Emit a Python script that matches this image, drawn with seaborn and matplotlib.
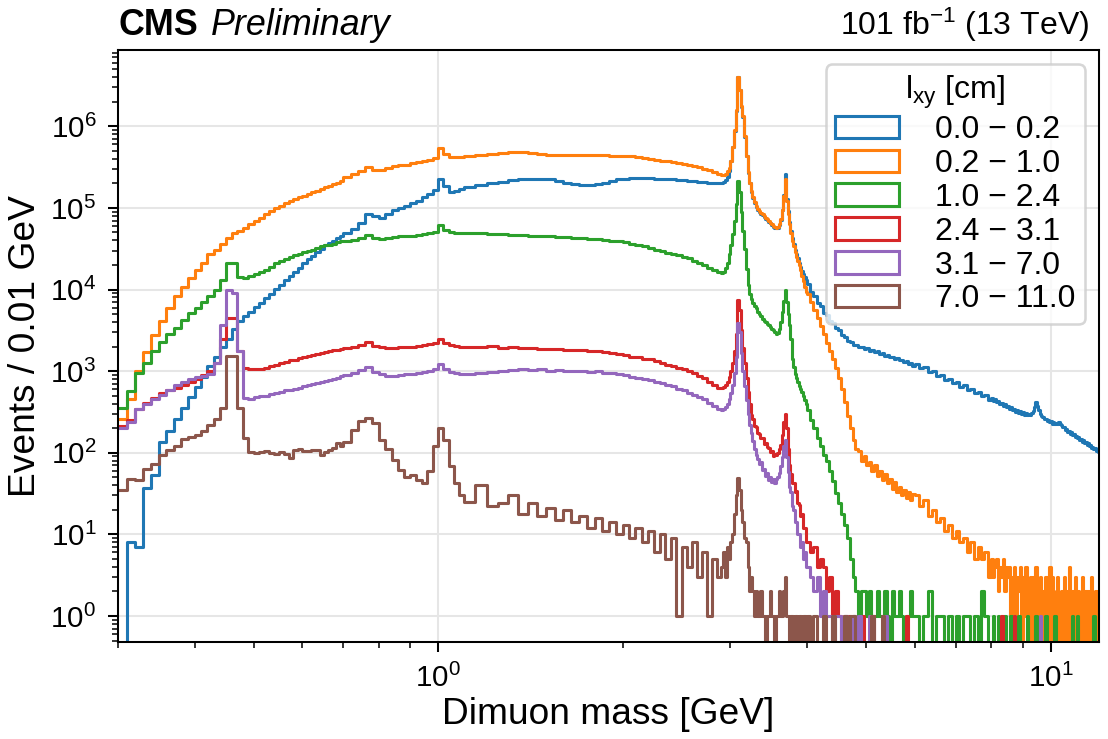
import numpy as np
import pandas as pd
import matplotlib
matplotlib.use("Agg")
import matplotlib.pyplot as plt
from matplotlib.patches import Patch
from matplotlib.ticker import NullFormatter
import seaborn as sns

# Binning in units of 0.01 GeV: (start, stop, step) per mass range
bin_segments = [(30, 70, 1), (70, 110, 2), (110, 290, 5), (290, 400, 2), (400, 600, 5), (600, 800, 10),
                (800, 1200, 5)]
edges = np.concatenate([np.arange(a, b, s) for a, b, s in bin_segments] + [[1200]]) / 100.0
centers = 0.5 * (edges[:-1] + edges[1:])

lxy_bins = ["0.0 \u2212 0.2", "0.2 \u2212 1.0", "1.0 \u2212 2.4", "2.4 \u2212 3.1", "3.1 \u2212 7.0", "7.0 \u2212 11.0"]

# Events / 0.01 GeV
# (ranges: 0.3-0.7, 0.7-1.1, 1.1-2.9, 2.9-4.0, 4-6, 6-8, 8-12 GeV)
ev_00_02 = (
    [0, 8, 7, 37, 53, 135, 186, 257, 355, 479, 646, 851, 1150, 1510, 1950, 2510, 3310, 4170, 4680, 5250,
     6030, 6920, 7940, 8910, 10200, 11500, 12900, 14800, 16600, 18600, 20900, 23400, 25700, 28800, 31600,
     34700, 37200, 39800, 42700, 45700]
    + [49000, 55000, 66100, 85100, 79400, 75900, 83200, 93300, 100000, 107000, 115000, 123000, 135000,
       148000, 166000, 224000, 186000, 155000, 162000, 170000]
    + [178000, 191000, 200000, 209000, 219000, 224000, 229000, 229000, 224000, 214000, 204000, 195000,
       191000, 191000, 195000, 204000, 214000, 224000, 229000, 234000, 234000, 234000, 234000, 229000,
       229000, 224000, 224000, 219000, 219000, 214000, 214000, 209000, 209000, 204000, 204000, 200000]
    + [204000, 209000, 219000, 240000, 282000, 372000, 550000, 871000, 1550000, 4070000, 2750000, 1740000,
       1290000, 741000, 427000, 269000, 200000, 158000, 132000, 115000, 102000, 95500, 89100, 85100, 81300,
       77600, 74100, 70800, 67600, 64600, 61700, 58900, 57500, 56200, 57500, 61700, 70800, 93300, 145000,
       257000, 129000, 91200, 67600, 52500, 42700, 36300, 30900, 26900, 24000, 21400, 19100, 17000, 15500,
       14100, 12900]
    + [11800, 9300, 8300, 6900, 6300, 5200, 4900, 4150, 3900, 3350, 3150, 2750, 2650, 2330, 2280, 2080,
       2080, 1950, 1990, 1860, 1900, 1780, 1810, 1700, 1740, 1630, 1660, 1550, 1590, 1490, 1510, 1420,
       1450, 1350, 1380, 1300, 1320, 1240, 1260, 1170]
    + [1240, 1100, 1120, 970, 1000, 875, 905, 780, 810, 710, 735, 645, 675, 590, 610, 540, 560, 490, 510, 448]
    + [470, 432, 455, 415, 430, 396, 412, 378, 394, 362, 378, 346, 362, 333, 348, 320, 336, 310, 325, 300,
       316, 292, 308, 290, 300, 292, 310, 322, 360, 420, 375, 330, 300, 280, 276, 258, 262, 244, 252, 236,
       246, 228, 238, 222, 232, 222, 236, 226, 218, 204, 206, 190, 196, 182, 186, 172, 178, 164, 170, 157,
       162, 150, 155, 143, 148, 137, 142, 131, 136, 126, 130, 120, 125, 115, 119, 110, 114, 106, 109, 102]
)

ev_02_10 = (
    [260, 460, 1000, 1700, 2800, 4100, 5900, 8300, 10700, 13800, 17400, 21400, 26900, 30900, 36300, 42700,
     49000, 52500, 57500, 63100, 69200, 75900, 83200, 91200, 100000, 107000, 115000, 123000, 129000, 135000,
     141000, 148000, 155000, 162000, 170000, 178000, 186000, 195000, 204000, 214000]
    + [240000, 257000, 282000, 316000, 295000, 295000, 309000, 324000, 331000, 339000, 355000, 363000,
       372000, 389000, 407000, 537000, 457000, 417000, 417000, 417000]
    + [427000, 447000, 457000, 468000, 479000, 479000, 468000, 457000, 447000, 447000, 447000, 447000,
       447000, 447000, 447000, 447000, 437000, 437000, 427000, 427000, 417000, 407000, 398000, 389000,
       380000, 372000, 363000, 355000, 347000, 339000, 324000, 316000, 302000, 288000, 275000, 263000]
    + [251000, 251000, 263000, 282000, 309000, 380000, 562000, 891000, 1580000, 4070000, 2820000, 1780000,
       1320000, 759000, 437000, 275000, 204000, 162000, 135000, 117000, 105000, 97700, 91200, 87100, 83200,
       79400, 75900, 72400, 69200, 66100, 63100, 60300, 58900, 57500, 58900, 63100, 72400, 93300, 138000,
       229000, 120000, 85100, 63100, 49000, 39800, 33900, 28800, 25100, 22400, 20000, 17400, 14800, 12600,
       10700, 9330]
    + [8910, 7080, 5620, 4470, 3550, 2820, 2240, 1780, 1410, 1100, 830, 600, 420, 280, 200, 145, 110, 105,
       80, 90, 70, 78, 60, 70, 52, 60, 46, 55, 42, 48, 36, 44, 33, 38, 30, 35, 28, 33, 26, 31]
    + [30, 22, 26, 17, 20, 14, 16, 11, 13, 9, 11, 8, 9, 6, 8, 5, 7, 5, 6, 3]
    + [5, 3, 4, 5, 2, 4, 3, 5, 2, 4, 3, 4, 1, 3, 4, 0, 3, 2, 4, 0, 3, 1, 4, 0, 2, 3, 0, 3, 1, 4,
       0, 2, 3, 0, 2, 1, 3, 0, 2, 4, 0, 3, 1, 0, 2, 3, 0, 1, 2, 0, 3, 1, 0, 2, 4, 0, 1, 2, 0, 3,
       1, 0, 2, 1, 0, 3, 1, 0, 2, 0, 2, 1, 0, 3, 0, 1, 2, 0, 1, 2]
)

ev_10_24 = (
    [355, 575, 950, 1260, 1740, 2290, 2820, 3390, 4270, 5130, 5890, 7080, 8320, 10000, 13200, 21400, 21400,
     14100, 13800, 14500, 15500, 16600, 17400, 19100, 21400, 22400, 23400, 25100, 26300, 27500, 28800,
     29500, 30900, 32400, 33900, 34700, 35500, 36300, 38000, 38900]
    + [38900, 40700, 42700, 46800, 42700, 41700, 42700, 43700, 44700, 44700, 45700, 46800, 47900, 49000,
       51300, 61700, 53700, 50100, 49000, 49000]
    + [49000, 49000, 47900, 47900, 46800, 46800, 45700, 44700, 44700, 43700, 43700, 42700, 42700, 41700,
       41700, 40700, 39800, 38900, 38000, 36300, 35500, 33900, 32400, 30900, 29500, 28200, 26900, 26300,
       25100, 24000, 22400, 21400, 20000, 18600, 17400, 16200]
    + [15800, 16200, 18200, 21400, 26900, 35500, 47900, 69200, 112000, 214000, 158000, 89100, 52500, 31600,
       17800, 11200, 8710, 7590, 6920, 6310, 5890, 5370, 5010, 4680, 4370, 4170, 3980, 3800, 3630, 3470,
       3310, 3160, 3020, 2880, 2950, 3310, 3980, 5250, 7240, 9770, 7080, 5010, 3630, 2510, 1410, 1120, 933,
       832, 741, 661, 603, 550, 490, 447, 398]
    + [330, 250, 200, 150, 120, 95, 79, 60, 45, 32, 24, 18, 13, 9, 5, 3, 2, 1, 2, 2, 1, 2, 1, 1, 2, 1,
       1, 2, 1, 0, 2, 1, 1, 2, 1, 0, 1, 1, 2, 1]
    + [1, 0, 1, 2, 0, 1, 1, 0, 1, 0, 1, 0, 1, 1, 0, 1, 0, 2, 1, 0]
    + [0, 1, 0, 0, 1, 0, 0, 0, 1, 0, 0, 0, 1, 0, 0, 0, 0, 1, 0, 0, 0, 0, 0, 1, 0, 0, 0, 0, 0, 1,
       0, 0, 0, 0, 0, 0, 1, 0, 0, 0, 0, 0, 0, 1, 0, 0, 0, 0, 0, 0, 0, 0, 0, 0, 0, 0, 0, 1, 0, 0,
       0, 1, 0, 0, 0, 0, 0, 0, 0, 0, 0, 0, 0, 0, 0, 1, 0, 0, 0, 0]
)

ev_24_31 = (
    [210, 250, 340, 410, 470, 540, 590, 620, 680, 740, 810, 890, 1000, 1260, 2500, 4470, 4470, 1740, 1100,
     1050, 1050, 1070, 1080, 1170, 1200, 1260, 1290, 1350, 1380, 1440, 1480, 1550, 1590, 1630, 1660, 1720,
     1760, 1790, 1830, 1850]
    + [1910, 2000, 2090, 2290, 2040, 1950, 1910, 1910, 1950, 1950, 2000, 2040, 2090, 2140, 2190, 2510, 2190,
       2090, 2040, 2000]
    + [2000, 1960, 2030, 1940, 1980, 1930, 1920, 1890, 1880, 1850, 1830, 1840, 1790, 1770, 1750, 1700, 1670,
       1620, 1590, 1510, 1490, 1410, 1390, 1320, 1270, 1200, 1160, 1100, 1060, 1000, 940, 870, 820, 740,
       680, 630]
    + [617, 631, 676, 741, 851, 1000, 1260, 1780, 2820, 7410, 5620, 3160, 1910, 1260, 832, 562, 398, 290,
       262, 215, 208, 176, 172, 150, 150, 128, 130, 116, 114, 102, 104, 92, 96, 94, 100, 110, 126, 166, 240,
       302, 200, 112, 71, 55, 43, 42, 33, 34, 24, 23, 17, 18, 12, 12, 8]
    + [8, 6, 7, 4, 5, 4, 2, 3, 1, 2, 1, 0, 1, 1, 0, 1, 0, 0, 1, 0, 0, 0, 1, 0, 0, 0, 0, 0, 0, 0, 0, 0, 0,
       0, 0, 0, 1, 0, 0, 0]
    + [0, 0, 0, 0, 0, 0, 0, 0, 0, 0, 0, 0, 0, 0, 0, 0, 0, 0, 0, 0]
    + [0, 0, 0, 0, 0, 0, 1, 0, 0, 0, 0, 0, 0, 0, 1, 0, 0, 0, 0, 0, 0, 0, 0, 0, 0, 0, 0, 0, 0, 0,
       0, 0, 0, 0, 0, 0, 0, 0, 0, 0, 0, 0, 0, 0, 0, 0, 0, 0, 0, 0, 0, 0, 0, 0, 0, 0, 0, 0, 0, 0,
       0, 0, 0, 0, 0, 0, 0, 0, 0, 0, 0, 0, 0, 0, 0, 0, 0, 0, 0, 0]
)

ev_31_70 = (
    [200, 240, 340, 390, 450, 510, 590, 680, 740, 810, 850, 880, 930, 1260, 3700, 10000, 9100, 1740, 470,
     460, 480, 490, 500, 520, 540, 560, 580, 590, 610, 630, 650, 670, 690, 710, 730, 760, 780, 800, 830, 870]
    + [890, 950, 1020, 1120, 980, 910, 870, 870, 890, 910, 930, 950, 980, 1000, 1070, 1230, 1050, 980, 950, 930]
    + [930, 960, 970, 1010, 1020, 1060, 1030, 1050, 1010, 1040, 1010, 990, 1010, 970, 990, 950, 940, 910,
       890, 850, 830, 790, 780, 740, 710, 680, 650, 600, 580, 540, 510, 480, 450, 410, 370, 340]
    + [331, 339, 363, 398, 457, 537, 676, 955, 1510, 3890, 3020, 1660, 1000, 661, 447, 302, 219, 174, 141,
       112, 93, 83, 72, 76, 62, 64, 52, 56, 46, 50, 44, 48, 43, 47, 50, 56, 68, 89, 120, 145, 89, 58, 38,
       33, 22, 20, 14, 14, 10, 10, 7, 8, 5, 6, 4]
    + [4, 3, 2, 3, 1, 2, 1, 1, 0, 1, 1, 0, 1, 0, 0, 1, 0, 1, 0, 0, 0, 1, 0, 0, 0, 0, 0, 1, 0, 0, 0, 0, 0,
       0, 0, 0, 0, 0, 0, 0]
    + [0, 0, 0, 0, 0, 0, 0, 0, 0, 0, 0, 0, 0, 0, 0, 0, 0, 0, 0, 0]
    + [0, 0, 0, 0, 0, 0, 0, 0, 0, 0, 0, 0, 0, 0, 0, 0, 0, 0, 0, 0, 0, 0, 0, 0, 0, 0, 0, 0, 0, 0,
       0, 0, 1, 0, 0, 0, 0, 0, 0, 0, 0, 0, 0, 0, 0, 0, 0, 0, 0, 0, 0, 0, 0, 0, 0, 0, 0, 0, 0, 0,
       0, 0, 0, 0, 0, 0, 0, 0, 0, 0, 0, 0, 0, 0, 0, 0, 0, 0, 0, 0]
)

ev_70_110 = (
    [35, 47, 46, 64, 72, 94, 108, 120, 146, 155, 165, 185, 218, 262, 350, 1550, 1530, 350, 150, 103, 99,
     103, 106, 98, 96, 103, 96, 85, 108, 110, 106, 106, 108, 108, 94, 103, 108, 113, 130, 121]
    + [135, 190, 245, 265, 230, 145, 110, 81, 62, 50, 53, 46, 42, 60, 120, 200, 145, 68, 42, 30]
    + [25, 40, 22, 24, 30, 18, 24, 17, 21, 15, 20, 14, 17, 12, 16, 11, 14, 10, 13, 9, 12, 8, 11, 6, 10, 5,
       9, 1, 7, 4, 8, 3, 6, 1, 5, 3]
    + [4, 6, 3, 7, 5, 8, 10, 18, 30, 49, 35, 20, 14, 9, 8, 4, 2, 3, 2, 1, 2, 1, 1, 2, 1, 1, 0, 1, 1, 2, 1,
       1, 0, 1, 1, 2, 1, 1, 2, 3, 1, 1, 0, 1, 1, 0, 1, 1, 0, 1, 1, 0, 1, 1, 0]
    + [1, 0, 1, 0, 0, 1, 0, 0, 1, 0, 0, 0, 1, 0, 1, 1, 0, 0, 0, 0, 0, 0, 1, 0, 0, 0, 1, 0, 0, 0, 0, 0, 0,
       0, 0, 0, 0, 0, 0, 0]
    + [0, 0, 0, 0, 0, 0, 0, 0, 0, 0, 0, 0, 0, 0, 0, 0, 0, 0, 0, 0]
    + [0, 0, 0, 0, 0, 0, 0, 0, 0, 0, 0, 0, 0, 0, 0, 0, 0, 0, 0, 0, 0, 0, 0, 0, 0, 0, 0, 0, 0, 0,
       0, 0, 0, 0, 0, 0, 0, 0, 0, 0, 0, 0, 0, 0, 0, 0, 0, 0, 0, 0, 0, 0, 0, 0, 0, 0, 0, 0, 0, 0,
       0, 0, 0, 0, 0, 0, 0, 0, 0, 0, 0, 0, 0, 0, 0, 0, 0, 0, 0, 0]
)

series = [ev_00_02, ev_02_10, ev_10_24, ev_24_31, ev_31_70, ev_70_110]
for s in series:
    if len(s) != len(centers):
        raise ValueError(f"series has {len(s)} bins, expected {len(centers)}")

# Style
sns.set_style("ticks", {"axes.grid": True})
plt.rcParams["font.family"] = ["Liberation Sans", "DejaVu Sans"]
plt.rcParams["mathtext.fontset"] = "custom"
plt.rcParams["mathtext.rm"] = "Liberation Sans"
plt.rcParams["mathtext.it"] = "Liberation Sans:italic"
plt.rcParams["mathtext.bf"] = "Liberation Sans:bold"
plt.rcParams.update({
    "axes.edgecolor": "black", "axes.labelcolor": "black", "text.color": "black",
    "xtick.color": "black", "ytick.color": "black", "axes.linewidth": 0.8,
    "grid.color": "0.9", "grid.linewidth": 0.8,
})

colors = sns.color_palette("tab10", 6)

dpi = 1108 / 6.0
fig = plt.figure(figsize=(6.0, 739 / dpi), dpi=dpi)
ax = fig.add_axes([0.1065, 0.1313, 0.8854, 0.801])

# seaborn 0.13 compares bins to "auto", so the edges go in as a plain list
bin_list = edges.tolist()
for vals, col in zip(series, colors):
    df = pd.DataFrame({"mass": centers, "events": vals})
    sns.histplot(data=df, x="mass", weights="events", bins=bin_list, element="step", fill=False,
                 color=col, linewidth=1.2, ax=ax)

ax.set_xscale("log")
ax.set_yscale("log")
ax.set_xlim(0.3, 12)
ax.set_ylim(0.48, 8.6e6)
ax.xaxis.set_minor_formatter(NullFormatter())
ax.yaxis.set_minor_formatter(NullFormatter())
ax.grid(True, which="major", color="0.9", linewidth=0.8)
ax.grid(False, which="minor")
ax.tick_params(which="major", length=4, width=0.8, pad=4.5, labelsize=11.5)
ax.tick_params(which="minor", length=2.5, width=0.6)

ax.set_xlabel("Dimuon mass [GeV]", fontsize=14.5, labelpad=1.5)
ax.set_ylabel("Events / 0.01 GeV", fontsize=14.5, labelpad=3)

cms = ax.text(0.0, 1.025, "CMS", transform=ax.transAxes, fontsize=14, fontweight="bold",
              ha="left", va="baseline")
ax.annotate("Preliminary", xy=(1, 0), xycoords=cms, xytext=(5, 0), textcoords="offset points",
            fontsize=14, style="italic", ha="left", va="bottom")
ax.text(0.99, 1.025, r"101 fb$^{-1}$ (13 TeV)", transform=ax.transAxes, fontsize=12.5,
        ha="right", va="baseline")

handles = [Patch(facecolor="none", edgecolor=c, linewidth=1.2, label=l) for c, l in zip(colors, lxy_bins)]
ax.legend(handles=handles, title=r"l$_{\mathrm{xy}}$ [cm]", loc="upper right",
          fontsize=12.5, title_fontsize=12.5, borderpad=0.3, borderaxespad=0.45,
          handlelength=2.0, handleheight=0.7, handletextpad=1.1, labelspacing=0.12,
          framealpha=0.8, edgecolor="0.8")

fig.savefig("out.png", dpi=dpi)
